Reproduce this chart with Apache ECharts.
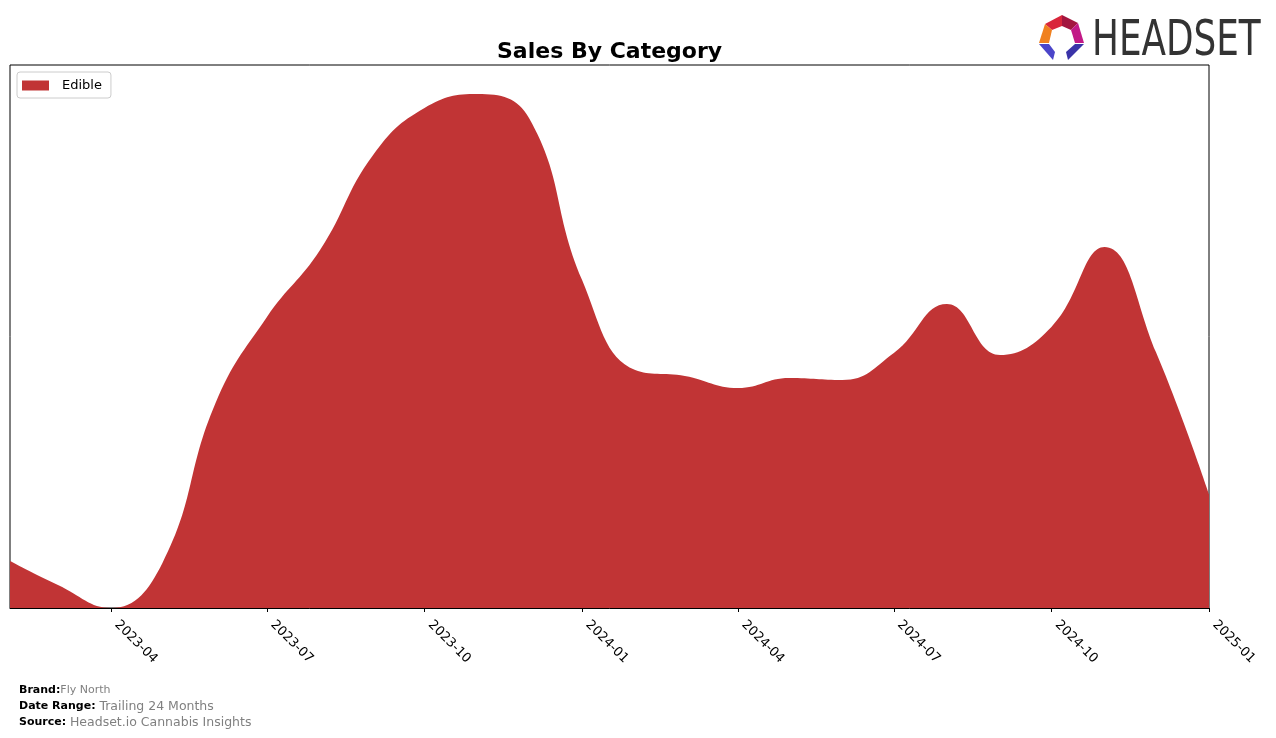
<!DOCTYPE html>
<html>
<head>
<meta charset="utf-8">
<script src="https://cdn.jsdelivr.net/npm/echarts@6/dist/echarts.min.js"></script>
<style>html,body{margin:0;padding:0;background:#fff;}#c{width:1276px;height:738px;}</style>
</head>
<body>
<div id="c"></div>
<script>
const months = ['2023-02','2023-03','2023-04','2023-05','2023-06','2023-07','2023-08','2023-09','2023-10','2023-11','2023-12','2024-01','2024-02','2024-03','2024-04','2024-05','2024-06','2024-07','2024-08','2024-09','2024-10','2024-11','2024-12','2025-01'];
const edible = [47, 23, 0, 45, 205, 291, 358, 453, 500, 514, 490, 328, 238, 232, 220, 230, 228, 255, 304, 253, 281, 361, 256, 114];
const tickLabels = ['2023-04','2023-07','2023-10','2024-01','2024-04','2024-07','2024-10','2025-01'];
const seriesName = 'Edible';

const ts = s => new Date(s + '-01T00:00:00Z').getTime();
const chart = echarts.init(document.getElementById('c'), null, {renderer: 'canvas'});
const tickVals = tickLabels.map(ts);
const fmt = v => { const d = new Date(v); return d.getUTCFullYear() + '-' + String(d.getUTCMonth() + 1).padStart(2, '0'); };

const option = {
  animation: false,
  backgroundColor: '#fff',
  title: {
    text: 'Sales By Category', left: 492, top: 36,
    textStyle: {fontFamily: 'DejaVu Sans', fontWeight: 'bold', fontSize: 22, color: '#000'}
  },
  legend: {
    left: 17, top: 72, orient: 'vertical',
    backgroundColor: '#fff', borderColor: '#cccccc', borderWidth: 1, borderRadius: 3,
    padding: [7, 9, 6, 5], itemWidth: 27, itemHeight: 10, itemGap: 5,
    icon: 'rect',
    textStyle: {fontFamily: 'DejaVu Sans', fontSize: 13, color: '#000', padding: [0, 0, 0, 8]},
    data: [seriesName]
  },
  grid: {left: 10, right: 67, top: 65, bottom: 130, show: true, borderColor: '#000', borderWidth: 1, containLabel: false},
  xAxis: {
    type: 'value', min: ts(months[0]), max: ts(months[months.length - 1]),
    axisLine: {show: true, onZero: false, lineStyle: {color: '#000', width: 1}},
    axisTick: {show: true, customValues: tickVals, length: 4, lineStyle: {color: '#000'}},
    splitLine: {show: false},
    axisLabel: {
      customValues: tickVals, formatter: v => fmt(v), rotate: -45, margin: 9,
      padding: [0, 0, 0, 8],
      fontFamily: 'DejaVu Sans', fontSize: 13, color: '#000', hideOverlap: false
    }
  },
  yAxis: {type: 'value', min: 0, max: 543, show: false, splitLine: {show: false}},
  series: [{
    name: seriesName, type: 'line', smooth: 0.45, symbol: 'none',
    data: months.map((m, i) => [ts(m), edible[i]]),
    lineStyle: {width: 0, color: '#c13435'},
    itemStyle: {color: '#c13435'},
    areaStyle: {color: '#c13435', opacity: 1}
  }],
  graphic: [
    {type: 'polygon', shape: {points: [[1045,24],[1062,15],[1062,26],[1052,30]]}, style: {fill: '#d9263b'}},
    {type: 'polygon', shape: {points: [[1062,15],[1078,23],[1071,30],[1062,26]]}, style: {fill: '#a3163f'}},
    {type: 'polygon', shape: {points: [[1078,23],[1084,43],[1075,43],[1071,30]]}, style: {fill: '#c21987'}},
    {type: 'polygon', shape: {points: [[1045,24],[1052,30],[1049,43],[1039,43]]}, style: {fill: '#f0801f'}},
    {type: 'polygon', shape: {points: [[1039,44],[1049,44],[1055,52],[1053,60]]}, style: {fill: '#4b45c9'}},
    {type: 'polygon', shape: {points: [[1075,44],[1084,44],[1068,60],[1066,52]]}, style: {fill: '#3a33a8'}},
    {type: 'text', left: 1092, top: 18, style: {text: 'HEADSET', fontFamily: 'DejaVu Sans', fontSize: 49, fill: '#333', fontWeight: 'normal'}, scaleX: 0.73},
    {type: 'text', left: 19, top: 685, style: {
      text: '{b|Brand:}{v1|Fly North}', rich: {
        b: {fontFamily: 'DejaVu Sans', fontWeight: 'bold', fontSize: 11, fill: '#000'},
        v1: {fontFamily: 'DejaVu Sans', fontSize: 11, fill: '#808080'}}}},
    {type: 'text', left: 19, top: 700, style: {
      text: '{b|Date Range: }{v|Trailing 24 Months}', rich: {
        b: {fontFamily: 'DejaVu Sans', fontWeight: 'bold', fontSize: 11, fill: '#000'},
        v: {fontFamily: 'DejaVu Sans', fontSize: 12.5, fill: '#808080'}}}},
    {type: 'text', left: 19, top: 716, style: {
      text: '{b|Source: }{v|Headset.io Cannabis Insights}', rich: {
        b: {fontFamily: 'DejaVu Sans', fontWeight: 'bold', fontSize: 11, fill: '#000'},
        v: {fontFamily: 'DejaVu Sans', fontSize: 12.5, fill: '#808080'}}}}
  ]
};
chart.setOption(option);
</script>
</body>
</html>
